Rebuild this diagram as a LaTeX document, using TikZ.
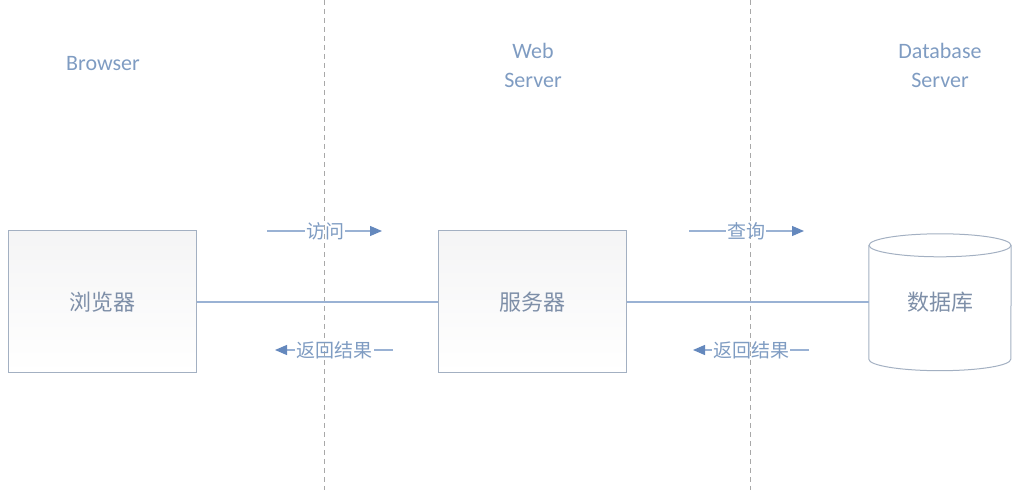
\documentclass[tikz,border=0pt]{standalone}
\usepackage{fontspec}
\setmainfont{Carlito}
\newfontfamily\cjk{Noto Sans CJK SC}
\usetikzlibrary{arrows.meta}
\definecolor{txt}{HTML}{7F9CC2}
\definecolor{boxtxt}{HTML}{7E8FA8}
\definecolor{boxline}{HTML}{A3B0C2}
\definecolor{conn}{HTML}{9AB2D4}
\definecolor{arr}{HTML}{6488BD}
\definecolor{dash}{HTML}{A8A8A8}
\tikzset{
  x=1pt,y=1pt,
  tier/.style={text=txt,font=\fontsize{22}{29}\selectfont,align=center},
  boxnode/.style={draw=boxline,line width=1pt,top color=blue!4!gray!8,bottom color=white,minimum width=188pt,minimum height=142pt,inner sep=0pt,text=boxtxt,font=\cjk\fontsize{22}{26}\selectfont},
  lbl/.style={text=txt,font=\cjk\fontsize{19}{22}\selectfont,inner sep=1pt},
  conline/.style={draw=conn,line width=1.2pt},
  arrline/.style={draw=conn,line width=1.2pt},
  arrtip/.style={draw=conn,line width=1.2pt,-{Triangle[length=12pt,width=10pt,fill=arr,color=arr]}},
  sep/.style={draw=dash,line width=0.9pt,dash pattern=on 5pt off 4pt}
}
\begin{document}
\begin{tikzpicture}
\useasboundingbox (0,0) rectangle (1028,490);
% separators
\coordinate (s1t) at (324,490); \coordinate (s1b) at (324,0);
\coordinate (s2t) at (750,490); \coordinate (s2b) at (750,0);
\draw[sep] (s1t) -- (s1b);
\draw[sep] (s2t) -- (s2b);
% tier labels
\node[tier] (tb) at (103,426) {Browser};
\node[tier] (tw) at (533,425) {Web\\Server};
\node[tier] (td) at (940,425) {Database\\Server};
% boxes
\node[boxnode] (br) at (102,188) {浏览器};
\node[boxnode] (ws) at (532.5,188) {服务器};
% database cylinder
\node[minimum width=142pt,minimum height=137pt,inner sep=0pt,text=boxtxt,font=\cjk\fontsize{22}{26}\selectfont] (db) at (940,188) {数据库};
\draw[boxline,line width=1pt]
  ([yshift=-12pt]db.north west) -- ([yshift=11.5pt]db.south west) arc (180:360:71 and 11.5) -- ([yshift=-12pt]db.north east);
\draw[boxline,line width=1pt] ([yshift=-12pt]db.north) ellipse (71 and 11.5);
% connectors
\draw[conline] (br.east) -- (ws.west);
\draw[conline] (ws.east) -- (db.west);
% labels with arrows
\node[lbl] (l1) at (325,259) {访问};
\coordinate (l1a) at (267,259); \coordinate (l1b) at (382,259);
\draw[arrline] (l1a) -- (l1.west);
\draw[arrtip] (l1.east) -- (l1b);
\node[lbl] (l2) at (334.5,140) {返回结果};
\coordinate (l2a) at (393,140); \coordinate (l2b) at (275,140);
\draw[arrline] (l2a) -- (l2.east);
\draw[arrtip] (l2.west) -- (l2b);
\node[lbl] (l3) at (746,259) {查询};
\coordinate (l3a) at (689,259); \coordinate (l3b) at (804,259);
\draw[arrline] (l3a) -- (l3.west);
\draw[arrtip] (l3.east) -- (l3b);
\node[lbl] (l4) at (751,140) {返回结果};
\coordinate (l4a) at (809,140); \coordinate (l4b) at (693,140);
\draw[arrline] (l4a) -- (l4.east);
\draw[arrtip] (l4.west) -- (l4b);
\end{tikzpicture}
\end{document}
